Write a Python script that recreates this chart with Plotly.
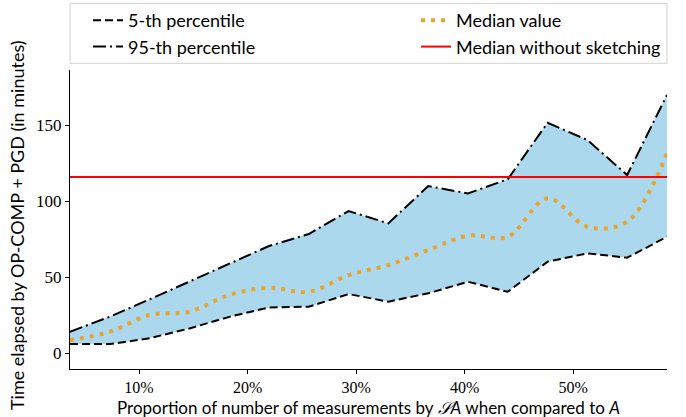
import plotly.graph_objects as go

# Data (x in percent)
proportion = [3.64, 7.31, 10.97, 14.64, 18.31, 21.97, 25.64, 29.31, 32.97, 36.64, 40.31, 43.97, 47.64, 51.31, 54.97, 58.64]
p5 = [6.1, 6.1, 9.9, 16.4, 24.0, 30.2, 30.7, 39.0, 34.0, 39.5, 47.1, 40.5, 60.3, 65.8, 62.9, 76.7]
p95 = [14.2, 24.1, 35.5, 47.1, 59.2, 70.6, 78.5, 93.6, 85.5, 110.0, 105.2, 114.5, 151.7, 140.3, 117.3, 170.0]
median = [8.7, 14.2, 25.2, 27.4, 38.4, 43.2, 40.5, 51.5, 58.1, 68.0, 77.4, 76.7, 102.0, 83.3, 86.6, 131.6]
median_no_sketch = 116.0
x_ticks = [10, 20, 30, 40, 50]
x_tick_labels = ["10%", "20%", "30%", "40%", "50%"]
y_ticks = [0, 50, 100, 150]

L, R, T, B = 70, 19, 70, 48
W, H = 686, 417
PW, PH = W - L - R, H - T - B


def px_x(p):
    return (p - L) / PW


def px_y(p):
    return (H - B - p) / PH


fig = go.Figure()
# fill between percentiles
fig.add_trace(go.Scatter(x=proportion, y=p5, mode="lines", line=dict(width=0), showlegend=False, hoverinfo="skip"))
fig.add_trace(go.Scatter(x=proportion, y=p95, mode="lines", line=dict(width=0), fill="tonexty",
                         fillcolor="#ACD8EE", showlegend=False, hoverinfo="skip"))
fig.add_trace(go.Scatter(x=proportion, y=p5, mode="lines", name="5-th percentile",
                         line=dict(color="black", width=2, dash="8px,4px"), legend="legend"))
fig.add_trace(go.Scatter(x=proportion, y=p95, mode="lines", name="95-th percentile",
                         line=dict(color="black", width=2, dash="13px,4px,2px,4px"), legend="legend"))
fig.add_trace(go.Scatter(x=proportion, y=median, mode="lines", name="Median value",
                         line=dict(color="#E6A532", width=4, dash="4px,6px", shape="spline", smoothing=1),
                         legend="legend2"))
fig.add_trace(go.Scatter(x=[proportion[0], proportion[-1]], y=[median_no_sketch, median_no_sketch], mode="lines",
                         name="Median without sketching", line=dict(color="red", width=2), legend="legend2"))

leg_common = dict(orientation="v", traceorder="normal", yanchor="top", xanchor="left",
                  xref="paper", yref="container",
                  bgcolor="rgba(0,0,0,0)", borderwidth=0, font=dict(family="Lato", size=18))

fig.update_layout(
    width=W, height=H,
    margin=dict(l=L, r=R, t=T, b=B),
    plot_bgcolor="white", paper_bgcolor="white",
    font=dict(family="Lato", size=16, color="black"),
    legend=dict(x=px_x(88), y=1 - 2 / H, **leg_common),
    legend2=dict(x=px_x(416), y=1 - 2 / H, **leg_common),
    shapes=[dict(type="rect", xref="paper", yref="paper", x0=px_x(70), x1=px_x(667),
                 y0=px_y(63.3), y1=px_y(3.3), line=dict(color="#D0D0D0", width=1), layer="below")],
    xaxis=dict(range=[proportion[0], proportion[-1]], tickvals=x_ticks, ticktext=x_tick_labels,
               showgrid=False, zeroline=False, showline=True, linecolor="black", linewidth=1.2,
               ticks="outside", ticklen=4, tickcolor="black", automargin=False,
               tickfont=dict(family="Liberation Serif", size=16)),
    yaxis=dict(range=[-10.3, 186.4], tickvals=y_ticks,
               showgrid=False, zeroline=False, showline=True, linecolor="black", linewidth=1.2,
               ticks="outside", ticklen=4, tickcolor="black", automargin=False,
               tickfont=dict(family="Liberation Serif", size=17)),
    annotations=[
        dict(text="Proportion of number of measurements by <i>𝒮A</i> when compared to <i>A</i>",
             xref="paper", yref="paper", x=0.5, y=px_y(407.5), xanchor="center", yanchor="middle",
             showarrow=False, borderpad=0, font=dict(family="Lato", size=17)),
        dict(text="Time elapsed by OP-COMP + PGD (in minutes)", textangle=-90,
             xref="paper", yref="paper", x=px_x(17), y=px_y(225),
             xanchor="center", yanchor="middle",
             showarrow=False, font=dict(family="Lato", size=18)),
    ],
)

fig.write_html("out.html", config={"displayModeBar": False},
               post_script="document.body.style.margin='0';")
